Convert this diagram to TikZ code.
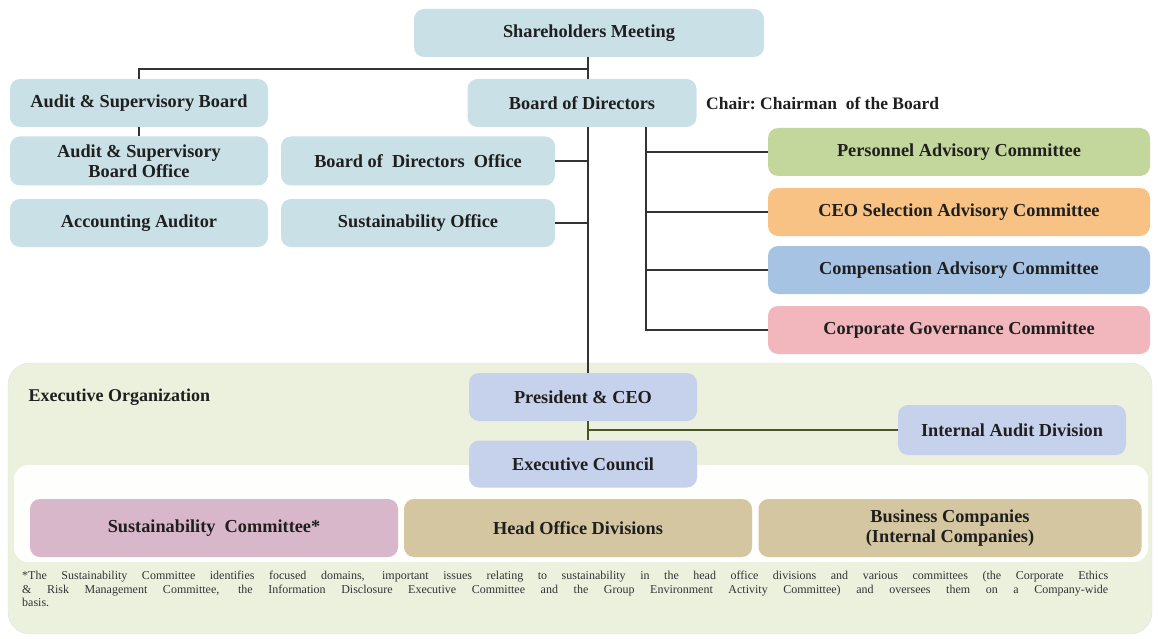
\documentclass[tikz,border=0pt]{standalone}
\usepackage{fontspec}
\setmainfont{Liberation Serif}
\usetikzlibrary{positioning}

\definecolor{govblue}{HTML}{C9E0E7}
\definecolor{persgreen}{HTML}{C3D69B}
\definecolor{ceoorange}{HTML}{F7C283}
\definecolor{compblue}{HTML}{A7C3E3}
\definecolor{corppink}{HTML}{F1B7BD}
\definecolor{execgreen}{HTML}{EBF1DD}
\definecolor{execblue}{HTML}{C6D2EC}
\definecolor{sustpink}{HTML}{D9B7CB}
\definecolor{divtan}{HTML}{D4C6A1}
\definecolor{linkolive}{HTML}{4A5226}

\begin{document}
\begin{tikzpicture}[x=1pt, y=-1pt,
    org/.style={fill=govblue, rounded corners=10pt, minimum height=48pt, align=center,
        inner sep=2pt, text=black!88, font=\fontsize{18.3}{19.5}\selectfont\bfseries},
    cmte/.style={org, minimum width=382pt},
    exec/.style={org, fill=execblue, minimum width=228pt},
    unit/.style={org, fill=divtan, minimum height=58pt},
    link/.style={line width=1.6pt, draw=black!80},
    elink/.style={line width=1.6pt, draw=linkolive},
    foot/.style={text width=1086pt, align=justify, inner sep=0pt, text=black!80,
        font=\fontsize{12}{13.5}\selectfont}]

\useasboundingbox (0,0) rectangle (1158,639);

% executive side panels
\filldraw[fill=execgreen, draw=black!12, rounded corners=22pt] (8,363) rectangle (1152,634);
\fill[white!70!execgreen!20, rounded corners=14pt] (14,465) rectangle (1148,562);

% governance bodies
\node[org, minimum width=350pt] (share) at (589,33) {Shareholders Meeting};
\node[org, minimum width=258pt] (asb) at (139,103) {Audit \& Supervisory Board};
\node[org, minimum width=229pt] (bod) at (582,103) {Board of Directors};
\node[right=6pt of bod, font=\fontsize{17.5}{19}\selectfont\bfseries, text=black!88] (chair) {Chair:\ Chairman\ \ of the Board};
\node[org, minimum width=258pt, minimum height=49pt] (asbo) at (139,161) {Audit \& Supervisory\\Board Office};
\node[org, minimum width=274pt, minimum height=49pt] (bodo) at (418,161) {Board of\ \ Directors\ \ Office};
\node[org, minimum width=258pt, minimum height=48pt] (aa) at (139,223) {Accounting Auditor};
\node[org, minimum width=274pt, minimum height=48pt] (so) at (418,223) {Sustainability Office};

% advisory committees
\node[cmte, fill=persgreen] (pac) at (959,152) {Personnel Advisory Committee};
\node[cmte, fill=ceoorange] (csac) at (959,212) {CEO Selection Advisory Committee};
\node[cmte, fill=compblue] (cac) at (959,270) {Compensation Advisory Committee};
\node[cmte, fill=corppink] (cgc) at (959,330) {Corporate Governance Committee};

% execution
\node[anchor=west, font=\fontsize{18}{19}\selectfont\bfseries, text=black!88] (eo) at (25,397) {Executive Organization};
\node[exec] (ceo) at (583,397) {President \& CEO};
\node[exec, minimum height=47pt] (council) at (583,464) {Executive Council};
\node[exec, minimum height=50pt] (iad) at (1012,430) {Internal Audit Division};
\node[unit, fill=sustpink, minimum width=368pt] (sc) at (214,528) {Sustainability\ \ Committee*};
\node[unit, minimum width=348pt] (hod) at (578,528) {Head Office Divisions};
\node[unit, minimum width=383pt] (bc) at (950,528) {Business Companies\\(Internal Companies)};

\node[foot, anchor=north west] (note) at (22,571) {*The Sustainability Committee identifies focused domains, important issues relating to sustainability in the head office divisions and various committees (the Corporate Ethics\linebreak
\& Risk Management Committee, the Information Disclosure Executive Committee and the Group Environment Activity Committee) and oversees them on a Company-wide\linebreak
basis.};

% connectors
\coordinate (bus) at (0,69);
\coordinate (trunk) at (588,0);
\coordinate (fork) at (646,0);
\draw[link] (asb.north) |- (trunk |- bus);
\draw[link] (trunk |- share.south) -- (trunk |- bod.north);
\draw[link] (asb.south) -- (asbo.north);
\draw[link] (trunk |- bod.south) -- (trunk |- ceo.north);
\draw[link] (bodo.east) -- (trunk |- bodo.east);
\draw[link] (so.east) -- (trunk |- so.east);
\draw[link] (fork |- bod.south) |- (cgc.west);
\foreach \c in {pac,csac,cac}
    \draw[link] (fork |- \c.west) -- (\c.west);
\draw[elink] (trunk |- ceo.south) -- (trunk |- council.north);
\draw[elink] (trunk |- iad.west) -- (iad.west);
\end{tikzpicture}
\end{document}
